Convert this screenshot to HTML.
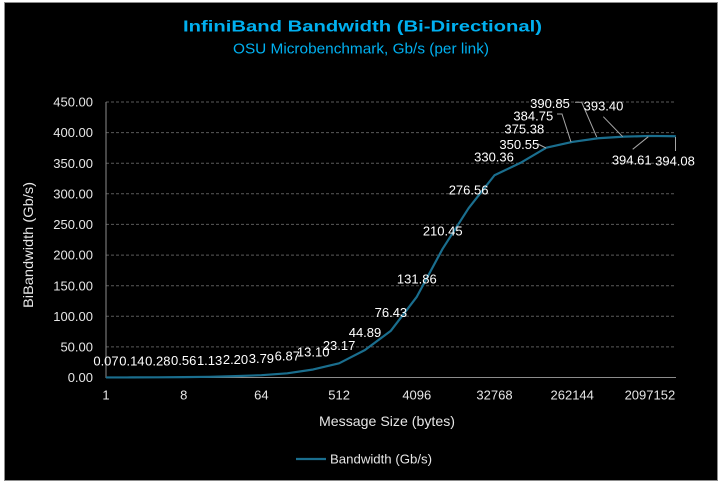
<!DOCTYPE html>
<html>
<head>
<meta charset="utf-8">
<style>
  html, body { margin:0; padding:0; background:#ffffff; width:724px; height:485px; overflow:hidden; }
  .frame { position:absolute; left:4px; top:2px; width:712px; height:477px; background:#000; border:1px solid #8c8c8c; }
  svg { position:absolute; left:0; top:0; }
  text { font-family:"Liberation Sans", Arial, sans-serif; }
</style>
</head>
<body>
<div class="frame"></div>
<svg width="724" height="485" viewBox="0 0 724 485" xmlns="http://www.w3.org/2000/svg">
  <!-- Titles -->
  <text x="362.5" y="31.7" text-anchor="middle" font-size="16" font-weight="bold" fill="#00B0F0" textLength="359" lengthAdjust="spacingAndGlyphs">InfiniBand Bandwidth (Bi-Directional)</text>
  <text x="361" y="53.3" text-anchor="middle" font-size="14.5" fill="#00B0F0" textLength="256" lengthAdjust="spacingAndGlyphs">OSU Microbenchmark, Gb/s (per link)</text>

  <!-- Gridlines -->
  <g stroke="#5a5a5a" stroke-width="1" stroke-dasharray="3,2">
    <line x1="106" y1="102" x2="676" y2="102"/>
    <line x1="106" y1="132.6" x2="676" y2="132.6"/>
    <line x1="106" y1="163.2" x2="676" y2="163.2"/>
    <line x1="106" y1="193.8" x2="676" y2="193.8"/>
    <line x1="106" y1="224.4" x2="676" y2="224.4"/>
    <line x1="106" y1="255.1" x2="676" y2="255.1"/>
    <line x1="106" y1="285.7" x2="676" y2="285.7"/>
    <line x1="106" y1="316.3" x2="676" y2="316.3"/>
    <line x1="106" y1="346.9" x2="676" y2="346.9"/>
  </g>
  <!-- Axes -->
  <line x1="106" y1="102" x2="106" y2="378" stroke="#8c8c8c" stroke-width="1"/>
  <line x1="106" y1="377.5" x2="676" y2="377.5" stroke="#8c8c8c" stroke-width="1"/>

  <!-- Y tick labels -->
  <g font-size="13" fill="#e6e6e6" text-anchor="end">
    <text x="93" y="106.6">450.00</text>
    <text x="93" y="137.2">400.00</text>
    <text x="93" y="167.8">350.00</text>
    <text x="93" y="198.4">300.00</text>
    <text x="93" y="229">250.00</text>
    <text x="93" y="259.7">200.00</text>
    <text x="93" y="290.3">150.00</text>
    <text x="93" y="320.9">100.00</text>
    <text x="93" y="351.5">50.00</text>
    <text x="93" y="382.1">0.00</text>
  </g>

  <!-- X tick labels -->
  <g font-size="13" fill="#e6e6e6" text-anchor="middle">
    <text x="106" y="399.6">1</text>
    <text x="183.7" y="399.6">8</text>
    <text x="261.4" y="399.6">64</text>
    <text x="339.1" y="399.6">512</text>
    <text x="416.8" y="399.6">4096</text>
    <text x="494.5" y="399.6">32768</text>
    <text x="572.2" y="399.6">262144</text>
    <text x="649.9" y="399.6">2097152</text>
  </g>

  <!-- Axis titles -->
  <text x="387" y="426" text-anchor="middle" font-size="14" fill="#e6e6e6" textLength="136" lengthAdjust="spacingAndGlyphs">Message Size (bytes)</text>
  <text transform="translate(33,245) rotate(-90)" text-anchor="middle" font-size="14" fill="#e6e6e6" textLength="126" lengthAdjust="spacingAndGlyphs">BiBandwidth (Gb/s)</text>

  <!-- Series -->
  <polyline fill="none" stroke="#1A6E8E" stroke-width="2.2" stroke-linejoin="round"
    points="106,377.46 131.9,377.41 157.8,377.33 183.7,377.16 209.6,376.81 235.5,376.15 261.4,375.18 287.3,373.29 313.2,369.48 339.1,363.32 365,350.02 390.9,330.71 416.8,296.78 442.7,248.66 468.6,208.19 494.5,175.25 520.4,162.9 546.3,147.69 572.2,141.95 598.1,138.23 624,136.66 649.9,135.92 675.8,136.25"/>

  <!-- Leader lines -->
  <g stroke="#a6a6a6" stroke-width="1" fill="none">
    <polyline points="538,144 546,148"/>
    <polyline points="557,114 562,114 571,142"/>
    <polyline points="575,102.3 581.7,102.3 596.7,137"/>
    <polyline points="603.3,116.7 622.7,136.7"/>
    <polyline points="632.7,149.3 648.3,136.7"/>
    <polyline points="675.5,137 675.5,151"/>
  </g>

  <!-- Data labels -->
  <g font-size="13" fill="#ffffff" text-anchor="middle">
    <text x="106" y="365.4">0.07</text>
    <text x="131.9" y="365.4">0.14</text>
    <text x="157.8" y="365.3">0.28</text>
    <text x="183.7" y="365.2">0.56</text>
    <text x="209.6" y="364.8">1.13</text>
    <text x="235.5" y="364.2">2.20</text>
    <text x="261.4" y="363.2">3.79</text>
    <text x="287.3" y="360.3">6.87</text>
    <text x="313.2" y="356.5">13.10</text>
    <text x="339.1" y="349.8">23.17</text>
    <text x="365" y="336.9">44.89</text>
    <text x="390.9" y="316.9">76.43</text>
    <text x="416.8" y="283.3">131.86</text>
    <text x="442.7" y="235.3">210.45</text>
    <text x="468.6" y="194.3">276.56</text>
    <text x="494" y="161.3">330.36</text>
    <text x="519.3" y="148.9">350.55</text>
    <text x="524.3" y="133.6">375.38</text>
    <text x="533.3" y="120.3">384.75</text>
    <text x="550" y="107.9">390.85</text>
    <text x="603.5" y="110.3">393.40</text>
    <text x="631.7" y="164.6">394.61</text>
    <text x="675" y="165.6">394.08</text>
  </g>

  <!-- Legend -->
  <line x1="296" y1="459" x2="326" y2="459" stroke="#1A6E8E" stroke-width="2.2"/>
  <text x="330" y="463.6" font-size="13" fill="#e6e6e6" textLength="102" lengthAdjust="spacingAndGlyphs">Bandwidth (Gb/s)</text>
</svg>
</body>
</html>
